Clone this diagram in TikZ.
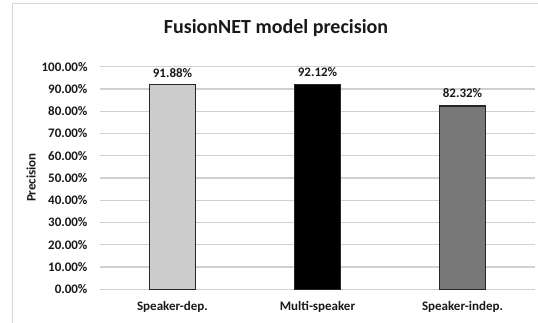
\documentclass[tikz,border=0pt]{standalone}
\usepackage{fontspec}
\setmainfont{Carlito}
\usepackage{xcolor}
\usepackage{tikz}

\definecolor{gridgray}{RGB}{208,208,208}
\definecolor{framegray}{RGB}{215,215,215}
\definecolor{barlight}{RGB}{204,204,204}
\definecolor{barmid}{RGB}{120,120,120}

\tikzset{
  gridline/.style={gridgray, line width=1.2pt},
  bar/.style={draw=black!85, line width=1.3pt},
  ticklabel/.style={anchor=east, font=\fontsize{13}{15}\selectfont\bfseries, text=black!90},
  vallabel/.style={font=\fontsize{13}{15}\selectfont\bfseries, text=black!90},
  catlabel/.style={font=\fontsize{13}{15}\selectfont\bfseries, text=black!90}
}

\begin{document}
\begin{tikzpicture}[x=1pt,y=1pt]
                \useasboundingbox (0,0) rectangle (538,323);
                % chart frame
                \draw[framegray, line width=1pt] (12,0) -- (12,319) -- (538,319);
                % title and axis title
                \node[font=\fontsize{20}{23}\selectfont\bfseries, text=black!90] (title) at (276,295) {FusionNET model precision};
                \node[rotate=90, font=\fontsize{13}{15}\selectfont\bfseries, text=black!90] (ytitle) at (31,145.5) {Precision};
                % plot area, y in percent
                \begin{scope}[shift={(100pt,33.7pt)}, y=2.226pt]
                \foreach \i in {0,...,10} {
                  \draw[gridline] (0,\i*10) -- (435,\i*10);
                  \node[ticklabel] (tick\i) at (-9,\i*10) {\the\numexpr\i*10\relax.00\%};
                }
                % bars
                \draw[bar, fill=barlight] (49.5,0) rectangle (95.5,91.88);
                \draw[bar, fill=black] (194.5,0) rectangle (240.5,92.12);
                \draw[bar, fill=barmid] (339.5,0) rectangle (385.5,82.32);
                % value labels
                \node[vallabel] (val1) at (72.5,91.88) [yshift=12pt] {91.88\%};
                \node[vallabel] (val2) at (217.5,92.12) [yshift=12pt] {92.12\%};
                \node[vallabel] (val3) at (362.5,82.32) [yshift=12.5pt] {82.32\%};
                % categories
                \node[catlabel] (cat1) at (72.5,-7.8) {Speaker-dep.};
                \node[catlabel] (cat2) at (217.5,-7.8) {Multi-speaker};
                \node[catlabel] (cat3) at (362.5,-7.8) {Speaker-indep.};
                \end{scope}
            \end{tikzpicture}
\end{document}
